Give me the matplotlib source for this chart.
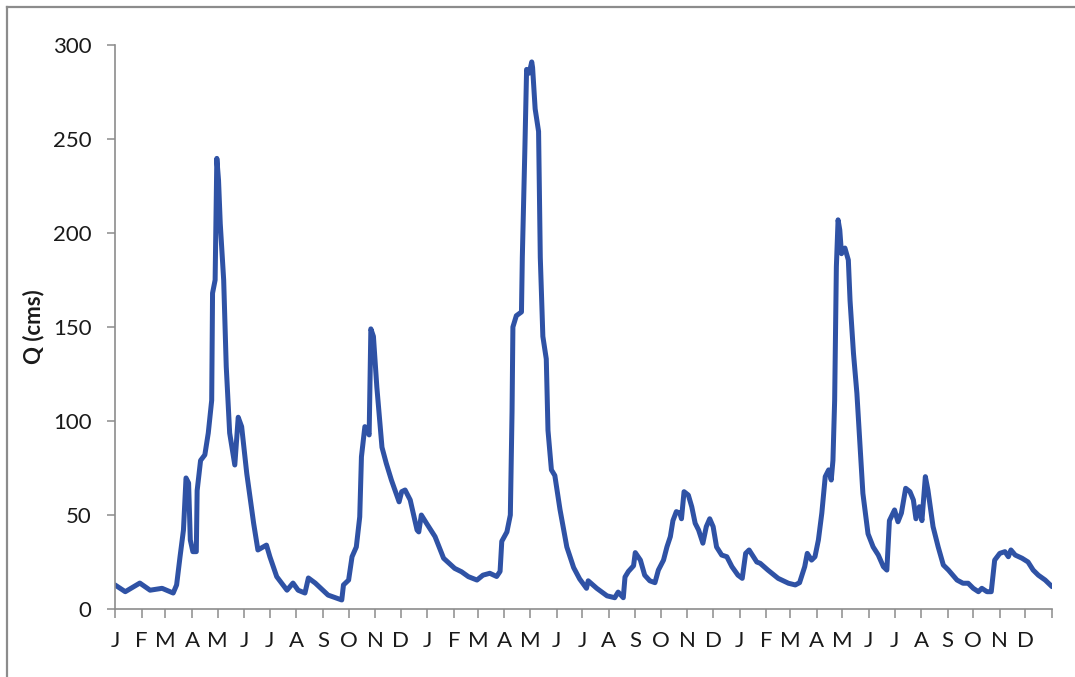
import matplotlib
matplotlib.use('Agg')
import matplotlib.pyplot as plt
from matplotlib.lines import Line2D
import numpy as np
import pandas as pd

# daily discharge (day since Jan 1 of year 1, Q in cms)
days = [0, 12, 29, 41, 55, 68, 72, 76, 80, 83, 86, 88, 91, 95, 96, 100, 105,
        109, 113, 114, 117, 119, 121, 123, 127, 130, 134, 140, 144, 148, 154,
        162, 167, 177, 181, 189, 201, 208, 214, 222, 226, 234, 249, 265, 267,
        273, 277, 282, 286, 288, 292, 297, 299, 302, 306, 312, 317, 323, 332,
        335, 339, 345, 353, 355, 358, 364, 374, 384, 397, 405, 413, 423, 430,
        438, 446, 450, 452, 458, 462, 464, 465, 469, 475, 476, 479, 481, 484,
        487, 488, 491, 495, 497, 500, 504, 506, 510, 514, 520, 528, 536, 543,
        551, 553, 563, 575, 584, 588, 594, 596, 600, 606, 608, 614, 619, 625,
        631, 635, 641, 645, 649, 652, 656, 660, 662, 665, 670, 674, 678, 682,
        687, 691, 695, 699, 703, 709, 715, 721, 728, 733, 737, 741, 746, 750,
        754, 763, 775, 787, 795, 800, 806, 809, 814, 818, 822, 826, 830, 834,
        837, 839, 841, 843, 845, 847, 849, 853, 857, 859, 863, 867, 871, 874,
        880, 886, 892, 898, 902, 905, 911, 915, 919, 924, 929, 933, 936, 940,
        943, 947, 950, 956, 962, 968, 974, 984, 991, 997, 1003, 1009, 1013,
        1019, 1024, 1028, 1034, 1040, 1044, 1047, 1052, 1060, 1067, 1073, 1079,
        1087, 1095]
q = [12.8, 9.2, 13.8, 10, 11, 8.5, 12.8, 27.8, 42, 69.7, 67, 36.7, 30.5, 30.5,
     63, 79, 82, 93.6, 111, 168, 175, 239.7, 228, 205, 175, 129, 93.6, 76.6,
     102, 97, 72, 45.6, 31.4, 34, 27.8, 17.2, 10, 13.8, 10, 8.5, 16.5, 13.8,
     7.4, 4.8, 12.8, 15.4, 27.8, 33, 49, 81, 97, 92.6, 149, 145, 118, 86, 77.5,
     68.6, 57, 62.4, 63.3, 58, 42, 41, 50, 45.6, 38.5, 27, 21.6, 19.8, 17.2,
     15.4, 18, 19, 17.3, 20, 36, 41, 50, 105, 150, 156, 158, 187, 245, 287, 285,
     291, 288, 266, 254, 187, 145, 133, 95, 74, 71, 53, 33, 22, 16, 11, 15, 11,
     7, 6, 9, 6, 17, 20, 23, 30, 26, 18, 15, 14, 20.7, 26, 33, 38.5, 47, 51.8,
     51, 48, 62.4, 60.6, 54.4, 45.6, 42, 35, 43.8, 48, 43.8, 33, 28.7, 27.8,
     22.5, 18, 16.3, 29.6, 31.4, 27.8, 25, 24.3, 20.7, 16.3, 13.7, 12.8, 14,
     22.5, 29.6, 26, 27.8, 36.7, 51, 70.4, 74, 68.6, 79, 111, 182, 207, 201.6,
     189, 192, 185.6, 164, 136, 114.7, 84.6, 61.5, 40, 33, 28.7, 22.5, 20.7,
     47, 52.7, 46.4, 51, 64.2, 62.4, 58, 48, 54.4, 47, 70.4, 63.3, 43.8, 33,
     23.4, 20.7, 15.4, 13.7, 13.7, 11, 9.2, 11, 9.2, 9.2, 26, 29.6, 30.5, 27.8,
     31.4, 28.7, 27, 25, 20.7, 18, 15.4, 11.9]

month_letters = list("JFMAMJJASOND") * 3 + [""]
month_starts = pd.date_range("2001-01-01", periods=37, freq="MS")
month_days = (month_starts - month_starts[0]).days.values

plt.rcParams['font.family'] = ['Lato', 'DejaVu Sans']

fig = plt.figure(figsize=(10.75, 6.77), dpi=100)
ax = fig.add_axes([115 / 1075, 1 - 609 / 677, 937 / 1075, 564 / 677])

ax.plot(days, q, color='#2F52A5', lw=3.6, solid_joinstyle='round',
        solid_capstyle='round')

ax.set_xlim(0, 1095)
ax.set_ylim(0, 300)
ax.set_yticks(np.arange(0, 301, 50))
ax.set_xticks(month_days)
ax.set_xticklabels(month_letters)

for s in ['top', 'right']:
    ax.spines[s].set_visible(False)
for s in ['left', 'bottom']:
    ax.spines[s].set_color('#8c8c8c')
    ax.spines[s].set_linewidth(1.2)

ax.tick_params(axis='y', length=6, width=1.1, color='#8c8c8c', pad=11,
               labelsize=16, labelcolor='#1a1a1a')
ax.tick_params(axis='x', length=6.5, width=1.1, color='#8c8c8c', pad=9,
               labelsize=16, labelcolor='#1a1a1a')
ax.set_ylabel("Q (cms)", fontsize=16, fontweight='bold', color='#1a1a1a',
              labelpad=6)

# chart frame (only top and left edges are inside the picture)
fig.add_artist(Line2D([7 / 1075, 1.0], [1 - 7 / 677, 1 - 7 / 677],
                      color='#8c8c8c', lw=1.6, transform=fig.transFigure))
fig.add_artist(Line2D([7 / 1075, 7 / 1075], [0.0, 1 - 7 / 677],
                      color='#8c8c8c', lw=1.6, transform=fig.transFigure))

fig.savefig("out.png", dpi=100)
